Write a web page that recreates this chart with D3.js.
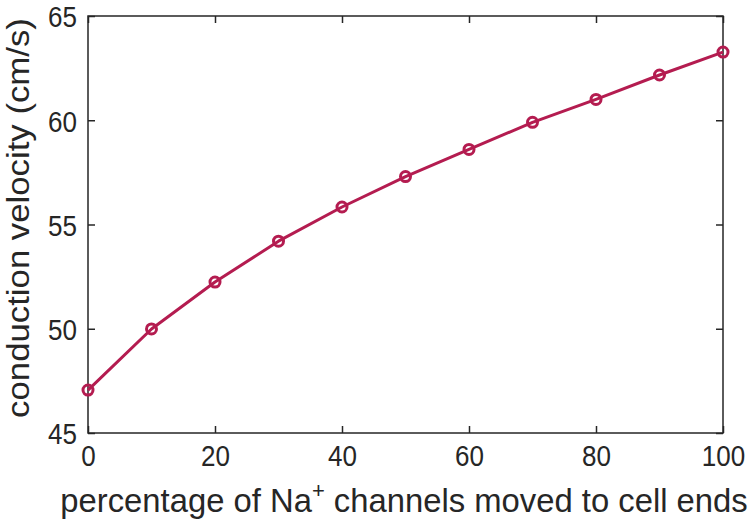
<!DOCTYPE html>
<html>
<head>
<meta charset="utf-8">
<script src="https://cdn.jsdelivr.net/npm/d3@7"></script>
<style>
  body { margin: 0; background: #fff; }
  text { font-family: "Liberation Sans", Arial, sans-serif; fill: #262626; }
</style>
</head>
<body>
<svg id="chart" width="750" height="524"></svg>
<script>
var percent = [0, 10, 20, 30, 40, 50, 60, 70, 80, 90, 100];
var velocity = [47.06, 49.99, 52.24, 54.2, 55.84, 57.3, 58.6, 59.9, 61.0, 62.17, 63.27];
var xTicks = [0, 20, 40, 60, 80, 100];
var yTicks = [45, 50, 55, 60, 65];

var svg = d3.select('#chart'),
    margin = {top: 16, right: 27, bottom: 91, left: 88},
    width = +svg.attr('width') - margin.left - margin.right,
    height = +svg.attr('height') - margin.top - margin.bottom,
    g = svg.append('g')
          .attr('transform', `translate(${margin.left}, ${margin.top})`);

// the original figure's text is slightly stretched vertically
var stretch = 1.16;

var x = d3.scaleLinear().domain([0, 100]).range([0, width]),
    y = d3.scaleLinear().domain([45, 65]).range([height, 0]);

var data = percent.map((p, i) => ({p: p, v: velocity[i]}));

function styleAxis(sel) {
  sel.select('.domain').remove();
  sel.selectAll('line').attr('stroke', '#262626').attr('stroke-width', 1.5);
  sel.selectAll('text').style('font-size', '26px').attr('fill', '#262626');
}

// bottom axis, ticks pointing inward
g.append('g')
  .attr('transform', `translate(0, ${height})`)
  .call(d3.axisBottom(x).tickValues(xTicks).tickSize(-7).tickPadding(12))
  .call(styleAxis)
  .selectAll('text')
    .each(function() {
      var t = d3.select(this), ty = +t.attr('y');
      t.attr('y', 0).attr('transform', `translate(0, ${ty}) scale(1, ${stretch})`);
    });

// left axis
g.append('g')
  .call(d3.axisLeft(y).tickValues(yTicks).tickSize(-7).tickPadding(11))
  .call(styleAxis)
  .selectAll('text')
    .attr('dy', '0.36em')
    .each(function() {
      var t = d3.select(this), tx = +t.attr('x');
      t.attr('x', 0).attr('transform', `translate(${tx}, 0) scale(1, ${stretch})`);
    });

// mirrored ticks on top and right
g.append('g')
  .call(d3.axisTop(x).tickValues(xTicks).tickSize(-7).tickFormat(''))
  .call(styleAxis);
g.append('g')
  .attr('transform', `translate(${width}, 0)`)
  .call(d3.axisRight(y).tickValues(yTicks).tickSize(-7).tickFormat(''))
  .call(styleAxis);

// box
g.append('rect')
  .attr('width', width)
  .attr('height', height)
  .attr('fill', 'none')
  .attr('stroke', '#262626')
  .attr('stroke-width', 1.5);

var line = d3.line()
  .x(d => x(d.p))
  .y(d => y(d.v));

g.append('path')
  .datum(data)
  .attr('fill', 'none')
  .attr('stroke', '#b41c50')
  .attr('stroke-width', 3)
  .attr('stroke-linejoin', 'round')
  .attr('d', line);

g.selectAll('.pt')
  .data(data)
  .enter().append('circle')
    .attr('class', 'pt')
    .attr('cx', d => x(d.p))
    .attr('cy', d => y(d.v))
    .attr('r', 5)
    .attr('fill', 'none')
    .attr('stroke', '#b41c50')
    .attr('stroke-width', 3);

// axis labels
var xl = svg.append('text')
  .attr('x', 404)
  .attr('y', 512)
  .attr('text-anchor', 'middle')
  .style('font-size', '32.8px');
xl.append('tspan').text('percentage of Na');
xl.append('tspan').attr('dy', -14).style('font-size', '22px').text('+');
xl.append('tspan').attr('dy', 14).text(' channels moved to cell ends');

var yl = svg.append('text')
  .attr('text-anchor', 'middle')
  .style('font-size', '31px')
  .text('conduction velocity (cm/s)');
var ylen = yl.node().getComputedTextLength();
yl.attr('transform', `translate(29, 218) scale(1, ${400 / ylen}) rotate(-90)`);
</script>
</body>
</html>
